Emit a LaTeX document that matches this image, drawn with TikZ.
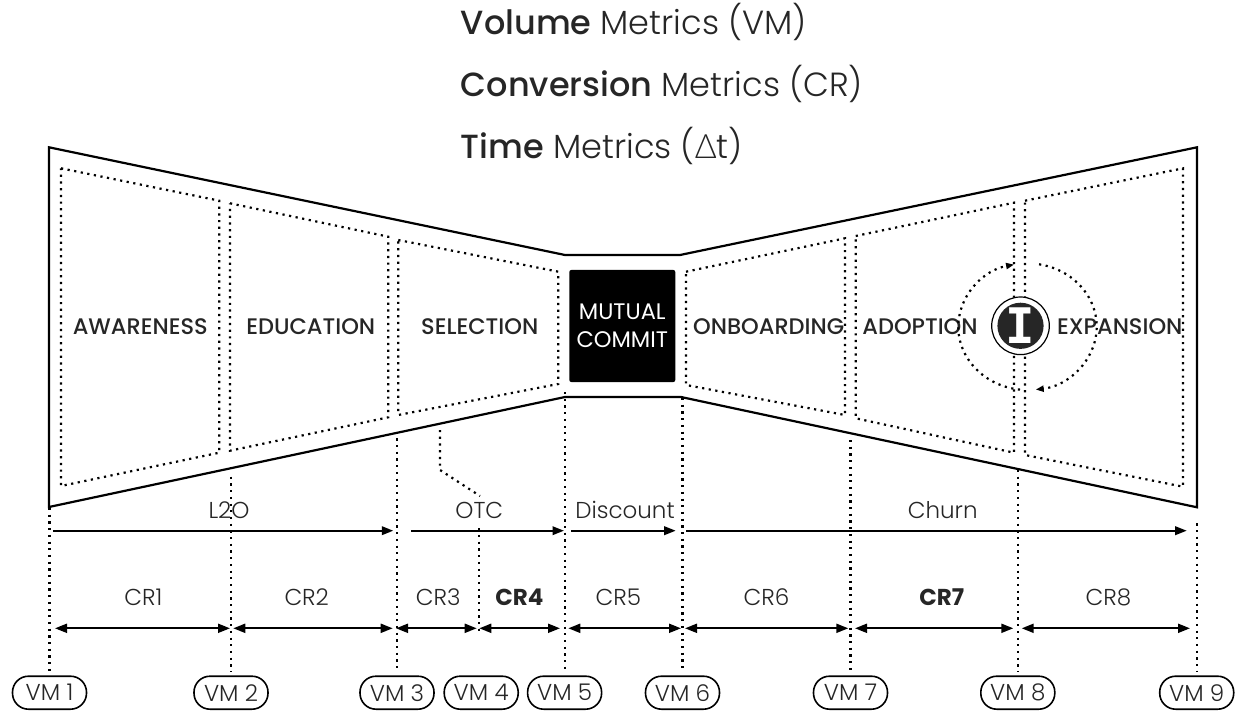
\documentclass[tikz,border=0pt]{standalone}
\usepackage{fontspec}
\setmainfont{Poppins}
\newfontfamily\lightfont{Poppins Light}
\newfontfamily\mediumfont{Poppins Medium}
\newfontfamily\deltafont{Lato Light}
\newfontfamily\iconfont{DejaVu Sans Mono Bold}
\usetikzlibrary{arrows.meta}

\definecolor{ink}{HTML}{262626}

\tikzset{
  outline/.style={line width=2.2pt, line join=miter, black},
  dotline/.style={line width=2.2pt, dash pattern=on 2.2pt off 4.5pt, black},
  stagelabel/.style={font=\mediumfont\fontsize{22.5}{26}\selectfont, text=ink, inner sep=0pt, anchor=base},
  metric/.style={font=\lightfont\fontsize{23}{27}\selectfont, text=ink, inner sep=0pt, anchor=base},
  boldmetric/.style={font=\bfseries\fontsize{23}{27}\selectfont, text=ink, inner sep=0pt, anchor=base},
  flow/.style={line width=2pt, -{Triangle[length=11.5pt,width=8.5pt]}},
  span/.style={line width=2pt, {Triangle[length=12pt,width=9pt]}-{Triangle[length=12pt,width=9pt]}},
  cycle/.style={dotline, -{Triangle[length=8pt,width=6pt]}},
  vmbox/.style={draw, line width=1.6pt, rounded corners=16pt, minimum width=74pt,
    minimum height=33pt, inner sep=0pt, font=\lightfont\fontsize{23}{27}\selectfont, text=ink, fill=white},
  title/.style={font=\fontsize{33.5}{40}\selectfont, text=ink, inner sep=0pt, anchor=base west},
  commitbox/.style={fill=black, rounded corners=2pt, minimum width=106pt, minimum height=112pt,
    inner sep=0pt, text=white, align=center, font=\fontsize{22.5}{28}\selectfont},
}

\begin{document}
\begin{tikzpicture}[x=1pt, y=-1pt]
\useasboundingbox (0,0) rectangle (1239,711);

% headings
\node[title] (tvol)  at (460.7,35)    {\mediumfont Volume\lightfont\ Metrics (VM)};
\node[title] (tconv) at (460.7,96.7)  {\mediumfont Conversion\lightfont\ Metrics (CR)};
\node[title] (ttime) at (460.7,158.3) {\mediumfont Time\lightfont\ Metrics ({\deltafont Δ}t)};

% bow-tie outline
\draw[outline] (49,147.3) -- (565,255) -- (680,255) -- (1197,147.3) -- (1197,507.3)
  -- (681,397) -- (565,397) -- (49,507) -- cycle;

% dotted stage frames
\draw[dotline] (61,168.3) -- (219.3,200.7) -- (219.3,452.7) -- (61,486) -- cycle;
\draw[dotline] (230,203.3) -- (388.3,236.7) -- (388.3,417.3) -- (230,450.7) -- cycle;
\draw[dotline] (398.3,240) -- (558.3,271.7) -- (558.3,384) -- (398.3,415) -- cycle;
\draw[dotline] (686,271.7) -- (845,238.3) -- (845,415) -- (686,385) -- cycle;
\draw[dotline] (855.7,236) -- (1014,202.7) -- (1014,452.7) -- (855.7,418.3) -- cycle;
\draw[dotline] (1025,200.7) -- (1183,168.3) -- (1183,486.7) -- (1025,455) -- cycle;

% stage names
\node[stagelabel] (aware) at (140.3,334) {AWARENESS};
\node[stagelabel] (educ)  at (310.7,334) {EDUCATION};
\node[stagelabel] (sel)   at (479.7,334) {SELECTION};
\node[commitbox]  (commit) at (622.3,326) {MUTUAL\\COMMIT};
\node[stagelabel] (onb)   at (768.7,334) {ONBOARDING};
\node[stagelabel] (adopt) at (920,334)   {ADOPTION};
\node[stagelabel] (expan) at (1119.7,334) {EXPANSION};

% expansion cycle
\draw[cycle] (1027.5,326.7) ++(279.6:69.2 and 63.3)
  arc[start angle=279.6, end angle=443.2, x radius=69.2, y radius=63.3];
\draw[cycle] (1027.5,326.7) ++(96.2:69.2 and 63.3)
  arc[start angle=96.2, end angle=258.8, x radius=69.2, y radius=63.3];

% icon
\node[circle, draw, line width=1.2pt, fill=white, minimum size=57.6pt, inner sep=0pt] (iring) at (1020.5,325.8) {};
\node[circle, fill=ink, minimum size=46pt, inner sep=0pt, text=white,
  font=\iconfont\fontsize{49}{49}\selectfont] (icon) at (iring.center) {I};

% volume metric markers
\node[vmbox] (vm1) at (49.5,692.7)   {VM 1};
\node[vmbox] (vm2) at (231,692.7)    {VM 2};
\node[vmbox] (vm3) at (397,692.7)    {VM 3};
\node[vmbox] (vm4) at (481.2,692.7)  {VM 4};
\node[vmbox] (vm5) at (564.6,692.7)  {VM 5};
\node[vmbox] (vm6) at (682.5,692.7)  {VM 6};
\node[vmbox] (vm7) at (850.5,692.7)  {VM 7};
\node[vmbox] (vm8) at (1017.8,692.7) {VM 8};
\node[vmbox] (vm9) at (1196.7,692.7) {VM 9};

\coordinate (s1) at (49.5,508);
\coordinate (s2) at (231,476.7);
\coordinate (s3) at (397,438.3);
\coordinate (s5) at (564.6,392);
\coordinate (s6) at (682.5,398);
\coordinate (s7) at (850.5,440);
\coordinate (s8) at (1017.8,470);
\coordinate (s9) at (1196.7,523.3);
\foreach \i in {1,2,3,5,6,7,8,9}
  \draw[dotline] (s\i) -- ([yshift=4pt]vm\i.north);
\coordinate (s4a) at (478.7,528.3);
\coordinate (s4b) at (478.7,633.3);
\draw[dotline] (s4a) -- (s4b);

% time metrics
\node[metric] (l2o)  at (229,518.3)   {L2O};
\node[metric] (otc)  at (479.3,518.3) {OTC};
\node[metric] (disc) at (625,518.3)   {Discount};
\node[metric] (churn) at (942.7,518.3) {Churn};

\coordinate (lead0) at (440,430);
\coordinate (lead1) at (440,470);
\coordinate (lead2) at (480,496);
\draw[dotline] (lead0) -- (lead1) -- (lead2);

\draw[flow] (53.3,530.7) -- (393.3,530.7);
\draw[flow] (411,530.7) -- (564,530.7);
\draw[flow] (571,530.7) -- (675.7,530.7);
\draw[flow] (686,530.7) -- (1186.7,530.7);

% conversion metrics
\node[metric]     (cr1) at (143.3,605.7) {CR1};
\node[metric]     (cr2) at (306.7,605.7) {CR2};
\node[metric]     (cr3) at (438.3,605.7) {CR3};
\node[boldmetric] (cr4) at (519.3,605.7) {CR4};
\node[metric]     (cr5) at (618.3,605.7) {CR5};
\node[metric]     (cr6) at (766.5,605.7) {CR6};
\node[boldmetric] (cr7) at (941.7,605.7) {CR7};
\node[metric]     (cr8) at (1108.3,605.7) {CR8};

\draw[span] (55,628.3) -- (230,628.3);
\draw[span] (233.3,628.3) -- (392.7,628.3);
\draw[span] (396,628.3) -- (476.7,628.3);
\draw[span] (479.3,628.3) -- (560,628.3);
\draw[span] (568.3,628.3) -- (681,628.3);
\draw[span] (685,628.3) -- (848.3,628.3);
\draw[span] (855,628.3) -- (1013.3,628.3);
\draw[span] (1021.7,628.3) -- (1190,628.3);
\end{tikzpicture}
\end{document}
